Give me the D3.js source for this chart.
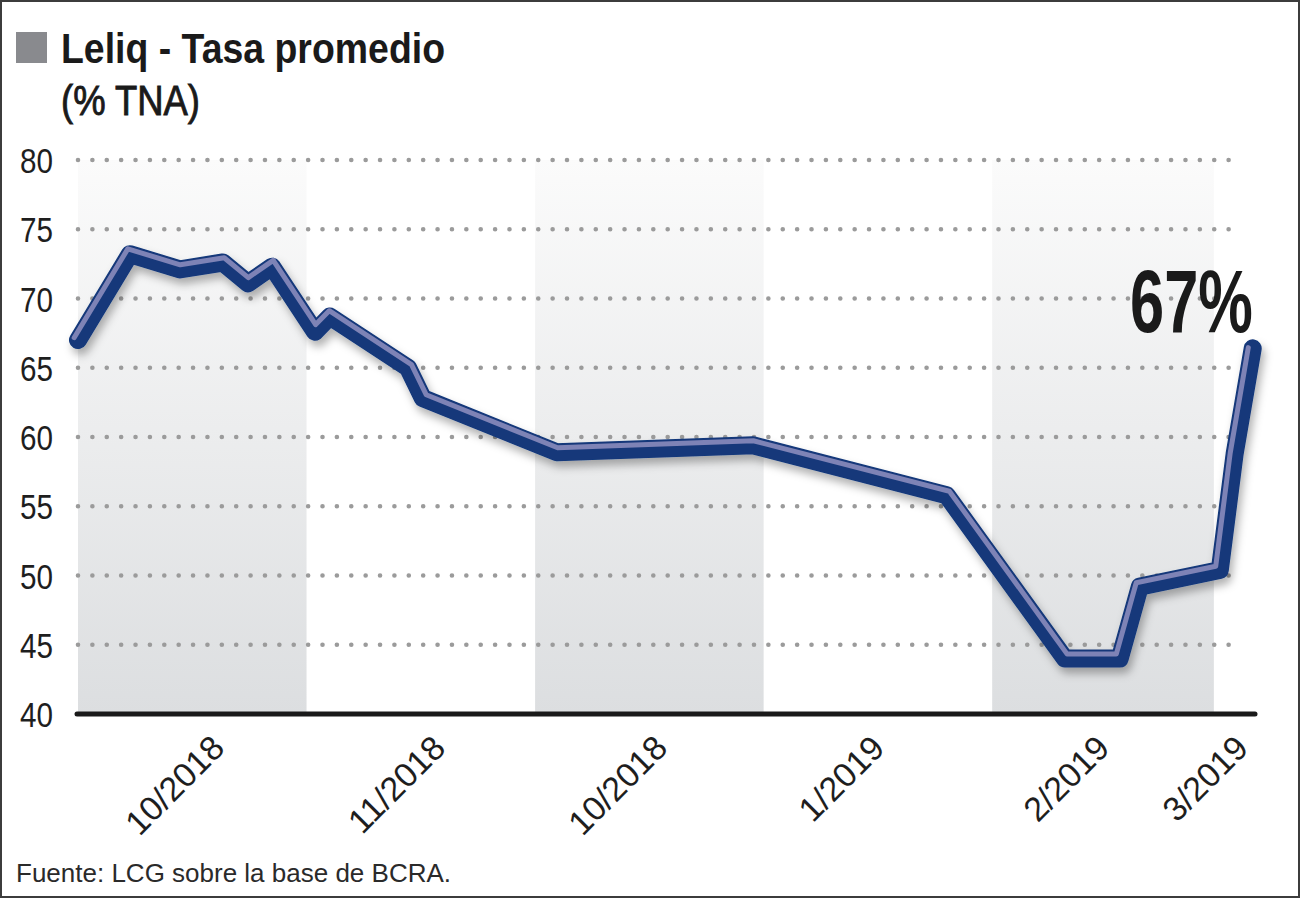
<!DOCTYPE html>
<html>
<head>
<meta charset="utf-8">
<script src="https://cdn.jsdelivr.net/npm/d3@7"></script>
<style>
  body { margin: 0; background: #fff; }
  svg { display: block; }
</style>
</head>
<body>
<svg id="grafico" width="1300" height="899"></svg>
<script>
// datos (x en "periodos", cada franja gris/blanca = 1)
var posX = [0, 0.227, 0.446, 0.634, 0.744, 0.849, 1.037, 1.102, 1.444, 1.509, 2.095, 2.953, 3.801, 4.318, 4.558, 4.646, 4.996, 5.061, 5.140];
var tasa = [67.0, 73.2, 72.1, 72.6, 71.1, 72.3, 67.6, 68.7, 65.0, 62.8, 58.9, 59.4, 55.8, 44.0, 44.0, 49.2, 50.4, 58.8, 66.4];

var ticksY = [40, 45, 50, 55, 60, 65, 70, 75, 80];
var ticksXPos = [0.647, 1.614, 2.585, 3.535, 4.519, 5.127];
var ticksXTexto = ["10/2018", "11/2018", "10/2018", "1/2019", "2/2019", "3/2019"];
var franjas = [[0, 1], [2, 3], [4, 4.97]];

var titulo = "Leliq - Tasa promedio";
var subtitulo = "(% TNA)";
var ultimoValor = "67%";
var fuente = "Fuente: LCG sobre la base de BCRA.";

var svg = d3.select("#grafico");
var x = d3.scaleLinear().domain([0, 5.15]).range([78, 1255]);
var y = d3.scaleLinear().domain([40, 80]).range([714, 160]);

var defs = svg.append("defs");
var grad = defs.append("linearGradient")
	.attr("id", "banda")
	.attr("gradientUnits", "userSpaceOnUse")
	.attr("x1", 0).attr("y1", y(80))
	.attr("x2", 0).attr("y2", y(40));
grad.append("stop").attr("offset", 0).attr("stop-color", "#fbfbfb");
grad.append("stop").attr("offset", 1).attr("stop-color", "#dcdee0");

var filtro = defs.append("filter")
	.attr("id", "sombra")
	.attr("x", "-10%").attr("y", "-10%")
	.attr("width", "120%").attr("height", "130%");
filtro.append("feDropShadow")
	.attr("dx", 3).attr("dy", 6)
	.attr("stdDeviation", 4)
	.attr("flood-color", "#000")
	.attr("flood-opacity", 0.3);

svg.append("rect")
	.attr("width", 1300).attr("height", 899)
	.attr("fill", "#fff");

// franjas grises
svg.selectAll(".franja")
	.data(franjas)
	.enter().append("rect")
	.attr("class", "franja")
	.attr("x", d => x(d[0]))
	.attr("width", d => x(d[1]) - x(d[0]))
	.attr("y", y(80))
	.attr("height", y(40) - y(80))
	.attr("fill", "url(#banda)");

// lineas punteadas
svg.selectAll(".grilla")
	.data(ticksY.filter(d => d > 40))
	.enter().append("line")
	.attr("class", "grilla")
	.attr("x1", 78).attr("x2", 1243)
	.attr("y1", d => y(d)).attr("y2", d => y(d))
	.attr("stroke", "#9b9b9b")
	.attr("stroke-width", 4.6)
	.attr("stroke-linecap", "round")
	.attr("stroke-dasharray", "0," + (1165 / 81));

// eje Y (solo textos)
var ejeY = svg.append("g")
	.attr("transform", "translate(78,0)")
	.call(d3.axisLeft(y).tickValues(ticksY).tickSize(0).tickPadding(25));
ejeY.select(".domain").remove();
ejeY.selectAll("text")
	.attr("font-family", "'Liberation Sans', Arial, sans-serif")
	.attr("font-size", 35)
	.attr("fill", "#1e1e1e")
	.attr("dy", "0.36em")
	.attr("textLength", 33)
	.attr("lengthAdjust", "spacingAndGlyphs");

// eje X
var ejeX = svg.append("g")
	.attr("transform", "translate(0," + y(40) + ")")
	.call(d3.axisBottom(x).tickValues(ticksXPos).tickFormat((d, i) => ticksXTexto[i]).tickSize(0));
ejeX.select(".domain").remove();
ejeX.selectAll("text")
	.attr("font-family", "'Liberation Sans', Arial, sans-serif")
	.attr("font-size", 34)
	.attr("fill", "#1e1e1e")
	.attr("text-anchor", "end")
	.attr("x", 0).attr("y", 0).attr("dy", null)
	.attr("transform", "translate(0,36) rotate(-45)");

svg.append("line")
	.attr("x1", x(0) - 1).attr("x2", x(5.15))
	.attr("y1", y(40)).attr("y2", y(40))
	.attr("stroke", "#1a1a1a")
	.attr("stroke-width", 5)
	.attr("stroke-linecap", "round");

// linea de la serie
var puntos = posX.map((d, i) => [x(d), y(tasa[i])]);

function desplazar(pts, dist) {
	return pts.map(function(p, i) {
		var nx = 0, ny = 0, n1 = null;
		[[i - 1, i], [i, i + 1]].forEach(function(s) {
			if (s[0] < 0 || s[1] >= pts.length) return;
			var dx = pts[s[1]][0] - pts[s[0]][0];
			var dy = pts[s[1]][1] - pts[s[0]][1];
			var l = Math.hypot(dx, dy);
			nx += dy / l; ny += -dx / l;
			if (!n1) n1 = [dy / l, -dx / l];
		});
		var l = Math.hypot(nx, ny);
		nx /= l; ny /= l;
		var c = nx * n1[0] + ny * n1[1];
		var m = Math.min(dist / Math.max(c, 0.3), dist * 2);
		return [p[0] + nx * m, p[1] + ny * m];
	});
}

var linea = d3.line();

svg.append("path")
	.attr("d", linea(puntos))
	.attr("fill", "none")
	.attr("stroke", "#12377a")
	.attr("stroke-width", 18)
	.attr("stroke-linejoin", "round")
	.attr("stroke-linecap", "round")
	.attr("filter", "url(#sombra)");

svg.append("path")
	.attr("d", linea(desplazar(puntos, 4.5)))
	.attr("fill", "none")
	.attr("stroke", "#7e83b6")
	.attr("stroke-width", 5)
	.attr("stroke-linejoin", "round")
	.attr("stroke-linecap", "round");

// 67%  (angostado con scale para que parezca condensada)
svg.append("text")
	.attr("transform", "translate(1130,332) scale(0.69,1)")
	.attr("font-family", "'Liberation Sans', Arial, sans-serif")
	.attr("font-weight", "bold")
	.attr("font-size", 89)
	.attr("fill", "#1a1a1a")
	.text(ultimoValor);

// titulo
svg.append("rect")
	.attr("x", 16).attr("y", 32)
	.attr("width", 31).attr("height", 31)
	.attr("fill", "#898a8e");

svg.append("text")
	.attr("x", 61).attr("y", 63)
	.attr("font-family", "'Liberation Sans', Arial, sans-serif")
	.attr("font-weight", "bold")
	.attr("font-size", 43)
	.attr("fill", "#1a1a1a")
	.attr("textLength", 384)
	.attr("lengthAdjust", "spacingAndGlyphs")
	.text(titulo);

svg.append("text")
	.attr("x", 61).attr("y", 115)
	.attr("font-family", "'Liberation Sans', Arial, sans-serif")
	.attr("font-size", 42)
	.attr("fill", "#1a1a1a")
	.attr("stroke", "#1a1a1a")
	.attr("stroke-width", 0.9)
	.attr("textLength", 139)
	.attr("lengthAdjust", "spacingAndGlyphs")
	.text(subtitulo);

svg.append("text")
	.attr("x", 16).attr("y", 882)
	.attr("font-family", "'Liberation Sans', Arial, sans-serif")
	.attr("font-size", 26)
	.attr("fill", "#2a2a2a")
	.text(fuente);

// marco
svg.append("rect")
	.attr("x", 1).attr("y", 1)
	.attr("width", 1298).attr("height", 896)
	.attr("fill", "none")
	.attr("stroke", "#3c3c3c")
	.attr("stroke-width", 2);
</script>
</body>
</html>
